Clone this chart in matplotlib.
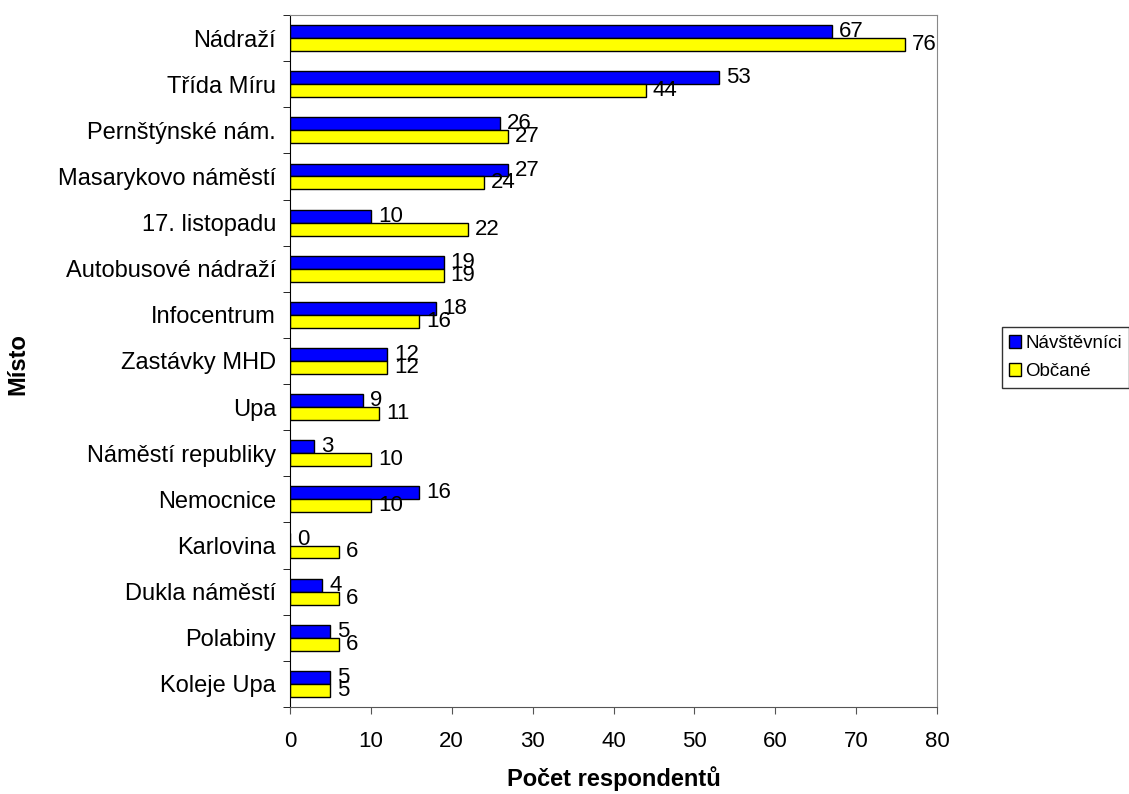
import numpy as np
import matplotlib.pyplot as plt

plt.rcParams['font.family'] = ['Liberation Sans', 'DejaVu Sans']

# data (top to bottom as in the chart)
mista = ["Nádraží", "Třída Míru", "Pernštýnské nám.", "Masarykovo náměstí",
         "17. listopadu", "Autobusové nádraží", "Infocentrum", "Zastávky MHD",
         "Upa", "Náměstí republiky", "Nemocnice", "Karlovina",
         "Dukla náměstí", "Polabiny", "Koleje Upa"]
navstevnici = [67, 53, 26, 27, 10, 19, 18, 12, 9, 3, 16, 0, 4, 5, 5]
obcane = [76, 44, 27, 24, 22, 19, 16, 12, 11, 10, 10, 6, 6, 6, 5]

fig = plt.figure(figsize=(11.29, 7.94), dpi=100)
ax = fig.add_axes([290 / 1129, 1 - 707 / 794, 647 / 1129, 692 / 794])

n = len(mista)
y = np.arange(n)
h = 0.28
b1 = ax.barh(y - h / 2, navstevnici, height=h, color="#0000FF",
             edgecolor="black", linewidth=1, label="Návštěvníci")
b2 = ax.barh(y + h / 2, obcane, height=h, color="#FFFF00",
             edgecolor="black", linewidth=1, label="Občané")

for bars, vals in ((b1, navstevnici), (b2, obcane)):
    for bar, v in zip(bars, vals):
        ax.annotate(str(v), (v, bar.get_y() + bar.get_height() / 2),
                    xytext=(5, 0), textcoords="offset points",
                    va="center", ha="left", fontsize=16)

ax.set_ylim(n - 0.5, -0.5)
ax.set_xlim(0, 80)
ax.set_xticks(np.arange(0, 81, 10))
ax.set_yticks(y)
ax.set_yticklabels(mista)
ax.set_yticks(np.arange(-0.5, n, 1), minor=True)
ax.tick_params(axis="y", which="major", length=0, pad=10, labelsize=17)
ax.tick_params(axis="y", which="minor", length=5, color="black")
ax.tick_params(axis="x", length=5, labelsize=16, pad=12, color="#555555")

for side in ("top", "right"):
    ax.spines[side].set_color("#888888")
ax.spines["bottom"].set_color("#555555")
ax.spines["left"].set_color("black")

ax.set_xlabel("Počet respondentů", fontsize=17, fontweight="bold", va="center")
ax.xaxis.set_label_coords(0.5, -(779 - 707) / 692)
ax.set_ylabel("Místo", fontsize=17, fontweight="bold", va="center")
ax.yaxis.set_label_coords(-(290 - 18) / 647, (707 - 364) / 692)

leg = ax.legend(loc="center left", bbox_to_anchor=(1.1, 0.505), fontsize=13.5,
                frameon=True, fancybox=False, edgecolor="black",
                handlelength=0.65, handleheight=0.65, handletextpad=0.2,
                borderpad=0.4, labelspacing=0.6, borderaxespad=0)
leg.get_frame().set_linewidth(1)

fig.savefig("out.png", dpi=100)
